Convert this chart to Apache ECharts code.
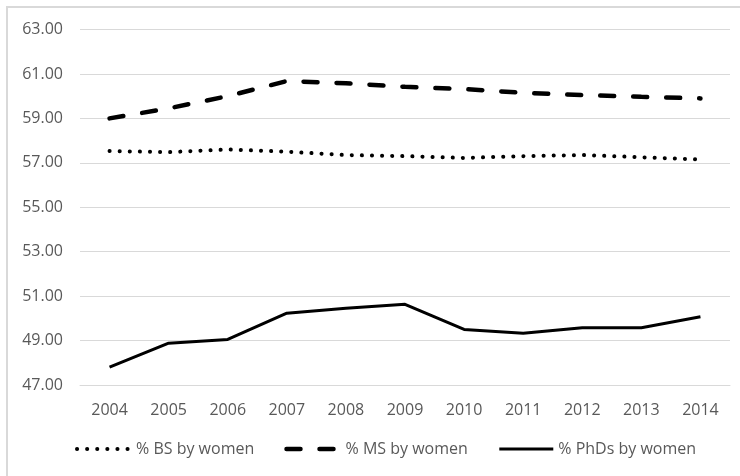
<!DOCTYPE html>
<html>
<head>
<meta charset="utf-8">
<script src="https://cdn.jsdelivr.net/npm/echarts@6/dist/echarts.min.js"></script>
<style>
  html, body { margin: 0; padding: 0; background: #fff; }
  #chart { width: 740px; height: 476px; }
</style>
</head>
<body>
<div id="chart"></div>
<script>
// Share of degrees awarded to women, 2004-2014
const years = ['2004', '2005', '2006', '2007', '2008', '2009', '2010', '2011', '2012', '2013', '2014'];
const bsWomen = [57.53, 57.48, 57.6, 57.5, 57.35, 57.3, 57.22, 57.3, 57.35, 57.25, 57.15];
const msWomen = [59.0, 59.45, 60.0, 60.68, 60.58, 60.42, 60.32, 60.15, 60.05, 59.97, 59.9];
const phdWomen = [47.8, 48.88, 49.05, 50.23, 50.45, 50.63, 49.5, 49.33, 49.58, 49.58, 50.07];
const seriesNames = ['% BS by women', '% MS by women', '% PhDs by women'];

const yMin = 47, yMax = 63, yStep = 2;
const textColor = '#595959';
const fontFamily = '"Open Sans", "Liberation Sans", sans-serif';

// stroke styles: dotted, dashed, solid
const styles = [
  { color: '#000', width: 4, type: [0.1, 10], cap: 'round' },
  { color: '#000', width: 4.5, type: [14, 19], cap: 'round' },
  { color: '#000', width: 3, type: 'solid', join: 'round' }
];

const chart = echarts.init(document.getElementById('chart'), null, { renderer: 'canvas' });

function lineSeries(name, data, lineStyle) {
  return {
    name: name,
    type: 'line',
    data: data,
    symbol: 'none',
    smooth: false,
    lineStyle: lineStyle,
    itemStyle: { color: '#000' },
    emphasis: { disabled: true },
    animation: false
  };
}

chart.setOption({
  animation: false,
  backgroundColor: '#fff',
  graphic: [{
    type: 'rect',
    shape: { x: 7, y: 7, width: 800, height: 600 },
    style: { fill: 'none', stroke: '#d9d9d9', lineWidth: 2 },
    silent: true,
    z: -1
  }],
  grid: { left: 80, right: 10, top: 29.5, bottom: 91, containLabel: false },
  xAxis: {
    type: 'category',
    data: years,
    boundaryGap: true,
    axisLine: { show: true, lineStyle: { color: '#d9d9d9', width: 1 } },
    axisTick: { show: false },
    axisLabel: { color: textColor, fontSize: 16, fontFamily: fontFamily, margin: 17 }
  },
  yAxis: {
    type: 'value',
    min: yMin,
    max: yMax,
    interval: yStep,
    axisLine: { show: false },
    axisTick: { show: false },
    splitLine: { lineStyle: { color: '#d9d9d9', width: 1 } },
    axisLabel: {
      color: textColor, fontSize: 16, fontFamily: fontFamily, margin: 17,
      formatter: v => v.toFixed(2)
    }
  },
  legend: {
    bottom: 14,
    left: 70,
    itemWidth: 54,
    itemHeight: 16,
    itemGap: 30,
    itemStyle: { opacity: 0 },
    textStyle: { color: textColor, fontSize: 16, fontFamily: fontFamily },
    data: seriesNames.map((n, i) => ({
      name: n,
      itemStyle: { opacity: 0 },
      lineStyle: Object.assign({}, styles[i])
    }))
  },
  series: seriesNames.map((n, i) => lineSeries(n, [bsWomen, msWomen, phdWomen][i], styles[i]))
});
</script>
</body>
</html>
